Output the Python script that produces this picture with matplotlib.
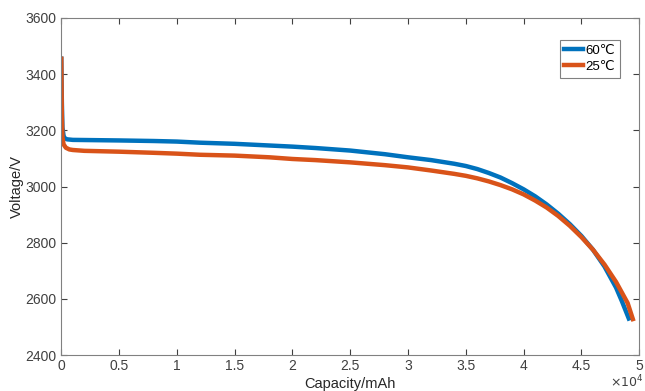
import numpy as np
import matplotlib
matplotlib.use("Agg")
import matplotlib.pyplot as plt
from matplotlib.ticker import FuncFormatter

plt.rcParams['font.family'] = ['Liberation Sans', 'DejaVu Sans']

# capacity in mAh, voltage in mV
cap_60 = [0, 50, 100, 200, 300, 500, 1000, 3000, 5000, 8000, 10000, 12000, 15000, 18000, 20000,
          22000, 25000, 28000, 30000, 32000, 34000, 35000, 36000, 37000, 38000, 39000, 40000,
          41000, 42000, 43000, 44000, 45000, 46000, 47000, 48000, 48500, 49100]
volt_60 = [3455, 3300, 3210, 3180, 3172, 3168, 3166, 3165, 3164, 3162, 3160, 3156, 3152, 3146, 3142,
           3137, 3128, 3115, 3104, 3094, 3081, 3073, 3062, 3048, 3032, 3012, 2990,
           2965, 2936, 2903, 2866, 2824, 2775, 2715, 2640, 2592, 2530]

cap_25 = [0, 50, 100, 200, 400, 700, 1000, 2000, 5000, 8000, 10000, 12000, 15000, 18000, 20000,
          22000, 25000, 28000, 30000, 32000, 34000, 35000, 36000, 37000, 38000, 39000, 40000,
          41000, 42000, 43000, 44000, 45000, 46000, 47000, 48000, 49000, 49450]
volt_25 = [3455, 3250, 3175, 3150, 3138, 3132, 3130, 3127, 3124, 3120, 3117, 3113, 3110, 3104, 3098,
           3094, 3086, 3076, 3068, 3057, 3045, 3038, 3029, 3018, 3005, 2990, 2972,
           2950, 2925, 2895, 2860, 2820, 2775, 2722, 2660, 2585, 2528]

fig = plt.figure(figsize=(6.45, 3.91), dpi=100)
ax = fig.add_axes([0.095, 0.092, 0.896, 0.862])

ax.plot(cap_60, volt_60, color='#0072BD', lw=3.2, label='60℃')
ax.plot(cap_25, volt_25, color='#D95319', lw=3.2, label='25℃')

ax.set_xlim(0, 50000)
ax.set_ylim(2400, 3600)
ax.set_xticks(np.arange(0, 50001, 5000))
ax.set_yticks(np.arange(2400, 3601, 200))
ax.xaxis.set_major_formatter(FuncFormatter(lambda v, p: '%g' % (v / 1e4)))
ax.tick_params(direction='in', length=4, colors='#404040', labelsize=10, top=True, right=True,
               labeltop=False, labelright=False)
ax.tick_params(axis='x', pad=2.5)
for s in ax.spines.values():
    s.set_color('#808080')
    s.set_linewidth(0.8)

ax.set_xlabel('Capacity/mAh', fontsize=10.5, color='#262626', labelpad=3)
ax.set_ylabel('Voltage/V', fontsize=10.5, color='#262626', labelpad=1)
fig.text(0.998, 0.001, r'$\times10^4$', ha='right', va='bottom', fontsize=9, color='#404040')

leg = ax.legend(loc='upper right', bbox_to_anchor=(0.966, 0.935), fontsize=9.5,
                handlelength=1.4, handletextpad=0.2, borderpad=0.35, labelspacing=0.3,
                borderaxespad=0, fancybox=False, framealpha=1)
leg.get_frame().set_edgecolor('#808080')
leg.get_frame().set_linewidth(0.8)

fig.savefig('out.png', dpi=100)
